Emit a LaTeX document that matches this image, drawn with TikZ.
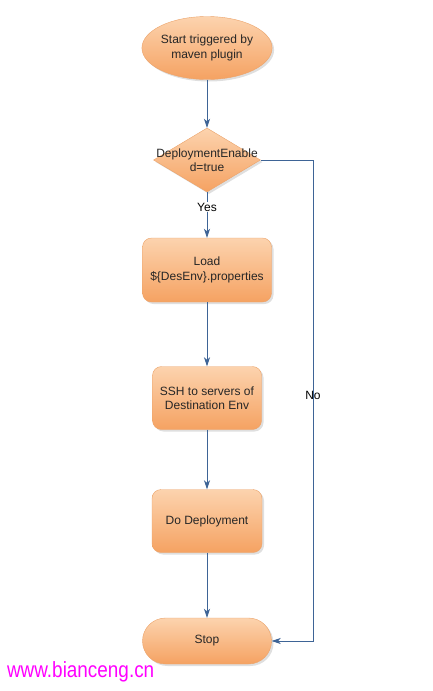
\documentclass[tikz,border=0pt]{standalone}
\usepackage{fontspec}
\setmainfont{Liberation Sans}
\usetikzlibrary{shapes.geometric,shadows,arrows.meta}
\definecolor{boxline}{HTML}{EBA36A}
\definecolor{boxtop}{HTML}{FCD3AE}
\definecolor{boxbottom}{HTML}{F5A262}
\definecolor{flowline}{HTML}{3E6496}
\definecolor{mark}{HTML}{FF00FF}
\begin{document}
\begin{tikzpicture}[x=1pt,y=-1pt,
    box/.style={draw=boxline, top color=boxtop, bottom color=boxbottom,
        text=black!85, font=\fontsize{12}{14.5}\selectfont, align=center,
        drop shadow={opacity=0.25, shadow xshift=2pt, shadow yshift=-2pt}},
    flow/.style={draw=flowline, line width=0.8pt, -{Stealth[length=9pt,width=6pt,inset=2.5pt]}}]
    \useasboundingbox (0,0) rectangle (433,691);

    % Shapes
    \node[box, ellipse, minimum width=109pt, minimum height=63pt, inner sep=0pt] (start) at (207,48) {Start triggered by\\maven plugin};
    \node[box, diamond, minimum width=107pt, minimum height=64pt, inner sep=0pt] (check) at (207,160) {};
    \node[text=black!85, font=\fontsize{12}{14.5}\selectfont, align=center] (checktext) at (207,160) {DeploymentEnable\\d=true};
    \node[box, rounded corners=9pt, minimum width=129pt, minimum height=64pt] (load) at (207,270) {Load\\\$\{DesEnv\}.properties};
    \node[box, rounded corners=9pt, minimum width=109pt, minimum height=63pt] (ssh) at (207,398) {SSH to servers of\\Destination Env};
    \node[box, rounded corners=9pt, minimum width=110pt, minimum height=63pt] (deploy) at (207,521) {Do Deployment};
    \node[box, rounded corners=23pt, minimum width=129pt, minimum height=46pt] (stop) at (207,641) {Stop};

    % Connectors
    \draw[flow] (start) -- (check);
    \draw[flow] (check) -- (load) node[pos=0.33, fill=white, inner sep=1pt, font=\fontsize{12}{14}\selectfont] (yes) {Yes};
    \draw[flow] (load) -- (ssh);
    \draw[flow] (ssh) -- (deploy);
    \draw[flow] (deploy) -- (stop);
    \coordinate (cornerA) at (313,160);
    \coordinate (cornerB) at (313,641);
    \draw[flow] (check.east) -- (cornerA) -- (cornerB) -- (stop.east);
    \node[font=\fontsize{12}{14}\selectfont] (no) at (313,395) {No};

    % Watermark
    \node[text=mark, font=\fontsize{22}{24}\selectfont, xscale=0.86, anchor=west] (site) at (4,672) {www.bianceng.cn};
\end{tikzpicture}
\end{document}
